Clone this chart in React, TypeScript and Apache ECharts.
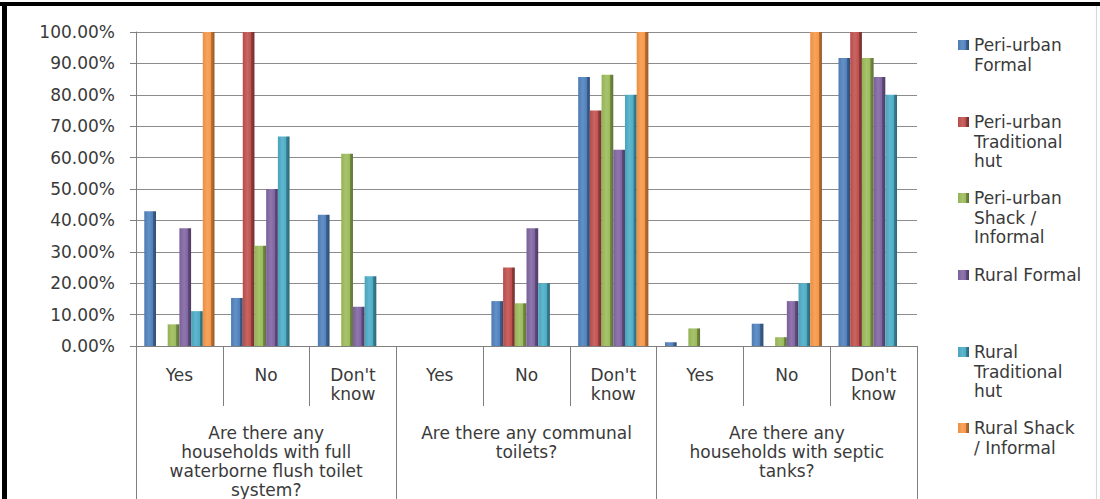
import React, { useEffect, useRef } from 'react';
import * as echarts from 'echarts';

const subCategories = ['Yes', 'No', "Don't\nknow", 'Yes', 'No', "Don't\nknow", 'Yes', 'No', "Don't\nknow"];
const questions = [
  'Are there any\nhouseholds with full\nwaterborne flush toilet\nsystem?',
  'Are there any communal\ntoilets?',
  'Are there any\nhouseholds with septic\ntanks?',
];

const seriesNames = [
  'Peri-urban Formal',
  'Peri-urban Traditional hut',
  'Peri-urban Shack / Informal',
  'Rural Formal',
  'Rural Traditional hut',
  'Rural Shack / Informal',
];
const legendLines = [
  ['Peri-urban', 'Formal'],
  ['Peri-urban', 'Traditional', 'hut'],
  ['Peri-urban', 'Shack /', 'Informal'],
  ['Rural Formal'],
  ['Rural', 'Traditional', 'hut'],
  ['Rural Shack', '/ Informal'],
];
const seriesColors = ['#4F81BD', '#C0504D', '#9BBB59', '#8064A2', '#4BACC6', '#F79646'];

const periUrbanFormal = [42.9, 15.3, 41.8, 0, 14.3, 85.7, 1.2, 7.1, 91.7];
const periUrbanTraditional = [0, 100, 0, 0, 25, 75, 0, 0, 100];
const periUrbanShack = [6.9, 31.9, 61.2, 0, 13.6, 86.4, 5.6, 2.8, 91.7];
const ruralFormal = [37.5, 50, 12.5, 0, 37.5, 62.5, 0, 14.3, 85.7];
const ruralTraditional = [11.1, 66.7, 22.2, 0, 20, 80, 0, 20, 80];
const ruralShack = [100, 0, 0, 0, 0, 100, 0, 100, 0];

const allValues = [periUrbanFormal, periUrbanTraditional, periUrbanShack, ruralFormal, ruralTraditional, ruralShack];

const yMin = 0;
const yMax = 100;
const yInterval = 10;

function shade(hex: string, f: number): string {
  const n = parseInt(hex.slice(1), 16);
  let r = (n >> 16) & 255, g = (n >> 8) & 255, b = n & 255;
  if (f >= 0) {
    r = Math.round(r + (255 - r) * f); g = Math.round(g + (255 - g) * f); b = Math.round(b + (255 - b) * f);
  } else {
    r = Math.round(r * (1 + f)); g = Math.round(g * (1 + f)); b = Math.round(b * (1 + f));
  }
  return '#' + ((1 << 24) + (r << 16) + (g << 8) + b).toString(16).slice(1);
}

const textColor = '#3a3a3a';
const font = 'DejaVu Sans';

export default function App() {
  const ref = useRef<HTMLDivElement>(null);
  useEffect(() => {
    if (!ref.current) return;
    const chart = echarts.init(ref.current, null, { renderer: 'svg' });
    const lineH = 19.5;
    const firstLineY = [45, 122, 198, 275, 352, 428];
    const legends = seriesNames.map((name, i) => {
      const lines = legendLines[i];
      const k = lines.length;
      const total = 2 * k - 1;
      const text = new Array(k - 1).fill('').concat(lines).join('\n');
      return {
        show: true,
        orient: 'vertical',
        left: 958,
        top: firstLineY[i] - (total * lineH) / 2,
        padding: 0,
        itemWidth: 11,
        itemHeight: 10,
        selectedMode: false,
        icon: 'rect',
        data: [name],
        formatter: () => text,
        textStyle: { fontFamily: font, fontSize: 17, color: textColor, lineHeight: lineH },
      };
    });
    const series = seriesNames.map((name, i) => {
      const c = seriesColors[i];
      return {
        name,
        type: 'bar',
        data: allValues[i],
        barWidth: 11.7,
        barGap: '0%',
        itemStyle: {
          color: new echarts.graphic.LinearGradient(0, 0, 1, 0, [
            { offset: 0, color: shade(c, -0.05) },
            { offset: 0.4, color: shade(c, 0.12) },
            { offset: 0.72, color: c },
            { offset: 0.74, color: shade(c, -0.25) },
            { offset: 1, color: shade(c, -0.4) },
          ]),
        },
      };
    });
    chart.setOption({
      animation: false,
      backgroundColor: '#ffffff',
      color: seriesColors,
      grid: { left: 136, right: 183, top: 32, bottom: 151, containLabel: false },
      legend: legends,
      xAxis: [
        {
          type: 'category',
          data: subCategories,
          position: 'bottom',
          axisLine: { show: true, lineStyle: { color: '#7f7f7f', width: 1 } },
          axisTick: { show: true, interval: 0, length: 60, lineStyle: { color: '#7f7f7f' } },
          axisLabel: { interval: 0, margin: 19, fontFamily: font, fontSize: 17, lineHeight: 19, color: textColor },
        },
        {
          type: 'category',
          data: questions,
          position: 'bottom',
          axisLine: { show: false },
          axisTick: { show: true, interval: 0, length: 160, lineStyle: { color: '#7f7f7f' } },
          axisLabel: { interval: 0, margin: 77, fontFamily: font, fontSize: 17, lineHeight: 19, color: textColor },
        },
      ],
      yAxis: {
        type: 'value',
        min: yMin,
        max: yMax,
        interval: yInterval,
        axisLine: { show: true, lineStyle: { color: '#7f7f7f' } },
        axisTick: { show: true, length: 6, lineStyle: { color: '#7f7f7f' } },
        splitLine: { show: true, lineStyle: { color: '#8c8c8c', width: 1 } },
        axisLabel: {
          margin: 21,
          fontFamily: font,
          fontSize: 17,
          color: textColor,
          formatter: (v: number) => v.toFixed(2) + '%',
        },
      },
      series,
      graphic: [
        { type: 'rect', left: 0, top: 2, shape: { width: 1100, height: 4 }, style: { fill: '#000' }, z: 100 },
        { type: 'rect', left: 2, top: 2, shape: { width: 5, height: 497 }, style: { fill: '#000' }, z: 100 },
        { type: 'rect', left: 1096, top: 6, shape: { width: 1, height: 493 }, style: { fill: '#d9d9d9' }, z: 100 },
      ],
    });
    return () => chart.dispose();
  }, []);
  return <div ref={ref} style={{ position: 'fixed', left: 0, top: 0, width: 1100, height: 499 }} />;
}
